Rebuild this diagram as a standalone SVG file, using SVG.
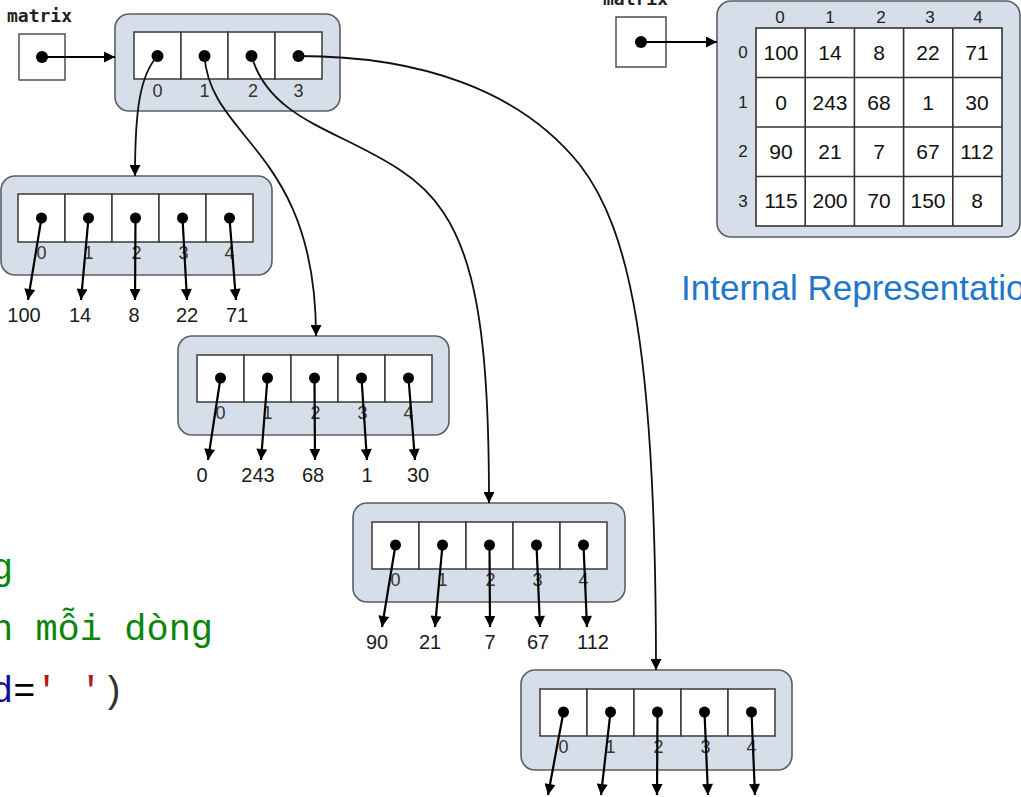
<svg xmlns="http://www.w3.org/2000/svg" width="1021" height="797" viewBox="0 0 1021 797">
<style>
.frame{fill:#d6dee9;stroke:#5a5f66;stroke-width:1.6}
.cell{fill:#fff;stroke:#3a3a3a;stroke-width:1.5}
.box{fill:#fff;stroke:#444;stroke-width:1.4}
.dot{fill:#000}
.ptr{stroke:#000;stroke-width:2.2;fill:none;marker-end:url(#ah)}
.curve{stroke:#111;stroke-width:1.8;fill:none;marker-end:url(#ah)}
.idx{font-family:"Liberation Sans",Arial,sans-serif;font-size:18px;fill:#333;text-anchor:middle}
.val{font-family:"Liberation Sans",Arial,sans-serif;font-size:20px;fill:#1a1a1a;text-anchor:middle}
.gv{font-family:"Liberation Sans",Arial,sans-serif;font-size:21px;fill:#111;text-anchor:middle}
.hd{font-family:"Liberation Sans",Arial,sans-serif;font-size:17px;fill:#222;text-anchor:middle}
.var{font-family:"DejaVu Sans Mono","Liberation Mono",monospace;font-size:18px;font-weight:bold;fill:#222}
.code{font-family:"Liberation Mono","DejaVu Sans Mono",monospace;font-size:37px}
</style>
<defs>
<marker id="ah" viewBox="0 0 10 10" refX="10" refY="5" markerWidth="12" markerHeight="11" markerUnits="userSpaceOnUse" orient="auto">
<path d="M0,0 L10,5 L0,10 z" fill="#000"/>
</marker>
</defs>
<rect width="1021" height="797" fill="#fff"/>

<!-- code fragment -->
<g id="code">
<text class="code" x="-9" y="579" fill="#0a850a">g</text>
<text class="code" x="-9" y="640" fill="#0a850a">n mỗi dòng</text>
<text class="code" x="-9" y="702"><tspan fill="#10109a">d</tspan><tspan fill="#000">=</tspan><tspan fill="#b01818">' '</tspan><tspan fill="#333">)</tspan></text>
</g>

<!-- left variable -->
<g id="var-matrix-left">
<text class="var" x="7" y="22">matrix</text>
<rect class="box" x="19" y="34" width="46" height="46"/>
<circle class="dot" cx="42" cy="57" r="6"/>
</g>

<!-- outer array -->
<g id="outer-array">
<rect class="frame" x="115" y="14" width="225" height="97" rx="14"/>
<rect class="cell" x="134" y="32" width="47" height="47"/>
<rect class="cell" x="181" y="32" width="47" height="47"/>
<rect class="cell" x="228" y="32" width="47" height="47"/>
<rect class="cell" x="275" y="32" width="47" height="47"/>
<circle class="dot" cx="157.5" cy="56" r="6"/>
<circle class="dot" cx="204.5" cy="56" r="6"/>
<circle class="dot" cx="251.5" cy="56" r="6"/>
<circle class="dot" cx="298.5" cy="56" r="6"/>
<text class="idx" x="157.5" y="97">0</text>
<text class="idx" x="204.5" y="97">1</text>
<text class="idx" x="253" y="97">2</text>
<text class="idx" x="298.5" y="97">3</text>
</g>

<!-- row 0 -->
<g id="row0">
<rect class="frame" x="1" y="176" width="271" height="99" rx="14"/>
<rect class="cell" x="18" y="194" width="47" height="48"/>
<rect class="cell" x="65" y="194" width="47" height="48"/>
<rect class="cell" x="112" y="194" width="47" height="48"/>
<rect class="cell" x="159" y="194" width="47" height="48"/>
<rect class="cell" x="206" y="194" width="47" height="48"/>
<text class="idx" x="41.5" y="259">0</text>
<text class="idx" x="88.5" y="259">1</text>
<text class="idx" x="136.5" y="259">2</text>
<text class="idx" x="183.5" y="259">3</text>
<text class="idx" x="229.5" y="259">4</text>
<circle class="dot" cx="41.5" cy="218" r="5.5"/>
<circle class="dot" cx="88.5" cy="218" r="5.5"/>
<circle class="dot" cx="135.5" cy="218" r="5.5"/>
<circle class="dot" cx="182.5" cy="218" r="5.5"/>
<circle class="dot" cx="229.5" cy="218" r="5.5"/>
</g>
<g id="row0-values">
<text class="val" x="24" y="322">100</text>
<text class="val" x="80" y="322">14</text>
<text class="val" x="134" y="322">8</text>
<text class="val" x="187" y="322">22</text>
<text class="val" x="237" y="322">71</text>
</g>

<!-- row 1 -->
<g id="row1">
<rect class="frame" x="178" y="336" width="271" height="99" rx="14"/>
<rect class="cell" x="197" y="355" width="47" height="47"/>
<rect class="cell" x="244" y="355" width="47" height="47"/>
<rect class="cell" x="291" y="355" width="47" height="47"/>
<rect class="cell" x="338" y="355" width="47" height="47"/>
<rect class="cell" x="385" y="355" width="47" height="47"/>
<text class="idx" x="220.5" y="419">0</text>
<text class="idx" x="267.5" y="419">1</text>
<text class="idx" x="315.5" y="419">2</text>
<text class="idx" x="362.5" y="419">3</text>
<text class="idx" x="408.5" y="419">4</text>
<circle class="dot" cx="220.5" cy="378" r="5.5"/>
<circle class="dot" cx="267.5" cy="378" r="5.5"/>
<circle class="dot" cx="314.5" cy="378" r="5.5"/>
<circle class="dot" cx="361.5" cy="378" r="5.5"/>
<circle class="dot" cx="408.5" cy="378" r="5.5"/>
</g>
<g id="row1-values">
<text class="val" x="202" y="482">0</text>
<text class="val" x="258" y="482">243</text>
<text class="val" x="313" y="482">68</text>
<text class="val" x="367" y="482">1</text>
<text class="val" x="418" y="482">30</text>
</g>

<!-- row 2 -->
<g id="row2">
<rect class="frame" x="353" y="503" width="272" height="99" rx="14"/>
<rect class="cell" x="372" y="522" width="47" height="47"/>
<rect class="cell" x="419" y="522" width="47" height="47"/>
<rect class="cell" x="466" y="522" width="47" height="47"/>
<rect class="cell" x="513" y="522" width="47" height="47"/>
<rect class="cell" x="560" y="522" width="47" height="47"/>
<text class="idx" x="395.5" y="586">0</text>
<text class="idx" x="442.5" y="586">1</text>
<text class="idx" x="490.5" y="586">2</text>
<text class="idx" x="537.5" y="586">3</text>
<text class="idx" x="583.5" y="586">4</text>
<circle class="dot" cx="395.5" cy="545" r="5.5"/>
<circle class="dot" cx="442.5" cy="545" r="5.5"/>
<circle class="dot" cx="489.5" cy="545" r="5.5"/>
<circle class="dot" cx="536.5" cy="545" r="5.5"/>
<circle class="dot" cx="583.5" cy="545" r="5.5"/>
</g>
<g id="row2-values">
<text class="val" x="377" y="649">90</text>
<text class="val" x="430" y="649">21</text>
<text class="val" x="490" y="649">7</text>
<text class="val" x="538" y="649">67</text>
<text class="val" x="593" y="649">112</text>
</g>

<!-- row 3 -->
<g id="row3">
<rect class="frame" x="521" y="670" width="271" height="100" rx="14"/>
<rect class="cell" x="540" y="689" width="47" height="47"/>
<rect class="cell" x="587" y="689" width="47" height="47"/>
<rect class="cell" x="634" y="689" width="47" height="47"/>
<rect class="cell" x="681" y="689" width="47" height="47"/>
<rect class="cell" x="728" y="689" width="47" height="47"/>
<text class="idx" x="563.5" y="753">0</text>
<text class="idx" x="610.5" y="753">1</text>
<text class="idx" x="658.5" y="753">2</text>
<text class="idx" x="705.5" y="753">3</text>
<text class="idx" x="751.5" y="753">4</text>
<circle class="dot" cx="563.5" cy="712" r="5.5"/>
<circle class="dot" cx="610.5" cy="712" r="5.5"/>
<circle class="dot" cx="657.5" cy="712" r="5.5"/>
<circle class="dot" cx="704.5" cy="712" r="5.5"/>
<circle class="dot" cx="751.5" cy="712" r="5.5"/>
</g>

<!-- right variable -->
<g id="var-matrix-right">
<text class="var" x="603" y="5">matrix</text>
<rect class="box" x="616" y="17" width="50" height="50"/>
<circle class="dot" cx="641" cy="42" r="6"/>
</g>

<!-- internal grid -->
<g id="internal-grid">
<rect class="frame" x="717" y="1" width="303" height="236" rx="14"/>
<rect x="756" y="28" width="246" height="198" fill="#fff" stroke="#333" stroke-width="1.6"/>
<g stroke="#333" stroke-width="1.6">
<line x1="805.2" y1="28" x2="805.2" y2="226"/>
<line x1="854.4" y1="28" x2="854.4" y2="226"/>
<line x1="903.6" y1="28" x2="903.6" y2="226"/>
<line x1="952.8" y1="28" x2="952.8" y2="226"/>
<line x1="756" y1="77.5" x2="1002" y2="77.5"/>
<line x1="756" y1="127" x2="1002" y2="127"/>
<line x1="756" y1="176.5" x2="1002" y2="176.5"/>
</g>
<text class="hd" x="780" y="23">0</text>
<text class="hd" x="830" y="23">1</text>
<text class="hd" x="881" y="23">2</text>
<text class="hd" x="930" y="23">3</text>
<text class="hd" x="978" y="23">4</text>
<text class="hd" x="743" y="58">0</text>
<text class="hd" x="743" y="108">1</text>
<text class="hd" x="743" y="157">2</text>
<text class="hd" x="743" y="207">3</text>
<text class="gv" x="781" y="60">100</text>
<text class="gv" x="830" y="60">14</text>
<text class="gv" x="879" y="60">8</text>
<text class="gv" x="928" y="60">22</text>
<text class="gv" x="977" y="60">71</text>
<text class="gv" x="781" y="110">0</text>
<text class="gv" x="830" y="110">243</text>
<text class="gv" x="879" y="110">68</text>
<text class="gv" x="928" y="110">1</text>
<text class="gv" x="977" y="110">30</text>
<text class="gv" x="781" y="159">90</text>
<text class="gv" x="830" y="159">21</text>
<text class="gv" x="879" y="159">7</text>
<text class="gv" x="928" y="159">67</text>
<text class="gv" x="977" y="159">112</text>
<text class="gv" x="781" y="208">115</text>
<text class="gv" x="830" y="208">200</text>
<text class="gv" x="879" y="208">70</text>
<text class="gv" x="928" y="208">150</text>
<text class="gv" x="977" y="208">8</text>
</g>

<text id="caption" x="681" y="300" font-family="Liberation Sans, Arial, sans-serif" font-size="35" fill="#1f77c9">Internal Representation</text>

<!-- connectors -->
<g id="connectors">
<path class="ptr" d="M42,57 L115,57"/>
<path class="ptr" d="M641,42 L717,42"/>
<path class="curve" d="M157.5,56 C140,75 135,110 135,176"/>
<path class="curve" d="M204.5,56 C210,140 316,150 316,336"/>
<path class="curve" d="M251.5,56 C270,120 340,130 400,170 C470,215 489,300 489,503"/>
<path class="curve" d="M298.5,56 C420,56 520,90 580,165 C630,230 656,350 656,670"/>
<path class="ptr" d="M41.5,218 L28,300"/>
<path class="ptr" d="M88.5,218 L81,300"/>
<path class="ptr" d="M135.5,218 L135,300"/>
<path class="ptr" d="M182.5,218 L187,300"/>
<path class="ptr" d="M229.5,218 L236,300"/>
<path class="ptr" d="M220.5,378 L208,460"/>
<path class="ptr" d="M267.5,378 L261,460"/>
<path class="ptr" d="M314.5,378 L315,460"/>
<path class="ptr" d="M361.5,378 L367,460"/>
<path class="ptr" d="M408.5,378 L415,460"/>
<path class="ptr" d="M395.5,545 L382,627"/>
<path class="ptr" d="M442.5,545 L435,627"/>
<path class="ptr" d="M489.5,545 L490,627"/>
<path class="ptr" d="M536.5,545 L540,627"/>
<path class="ptr" d="M583.5,545 L587,627"/>
<path class="ptr" d="M563.5,712 L548,795"/>
<path class="ptr" d="M610.5,712 L601,795"/>
<path class="ptr" d="M657.5,712 L657,795"/>
<path class="ptr" d="M704.5,712 L708,795"/>
<path class="ptr" d="M751.5,712 L755,795"/>
</g>
</svg>
